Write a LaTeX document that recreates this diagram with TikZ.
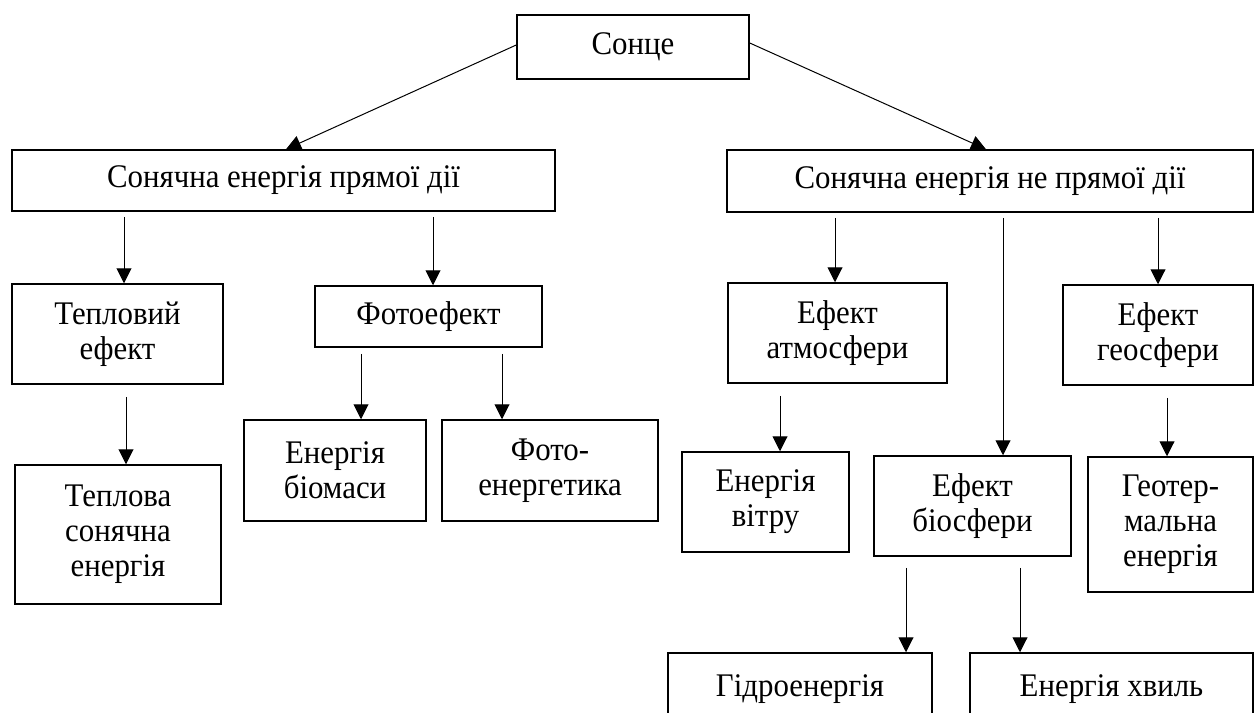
\documentclass[tikz,border=0pt]{standalone}
\usepackage{fontspec}
\setmainfont[FakeStretch=0.935]{Liberation Serif}
\usetikzlibrary{arrows.meta}
\begin{document}
\begin{tikzpicture}[x=1pt,y=-1pt,
  box/.style={draw, line width=1.5pt, inner sep=0pt, align=center, font=\fontsize{33}{35}\selectfont},
  arr/.style={line width=1pt, -{Triangle[length=15pt,width=15pt]}}]
\useasboundingbox (0,0) rectangle (1255,712);
\clip (0,0) rectangle (1255,712);
% nodes
\node[box, minimum width=232pt, minimum height=64pt] (sun) at (633,47) {Сонце};
\node[box, minimum width=543pt, minimum height=61pt] (pd) at (283.5,180.5) {Сонячна енергія прямої дії};
\node[box, minimum width=526pt, minimum height=62pt] (np) at (990,181) {Сонячна енергія не прямої дії};
\node[box, minimum width=211pt, minimum height=100pt] (tef) at (117.5,334) {Тепловий\\ефект};
\node[box, minimum width=227pt, minimum height=61pt] (foto) at (428.5,316.5) {Фотоефект};
\node[box, minimum width=206pt, minimum height=139pt] (tep) at (118,534.5) {Теплова\\сонячна\\енергія};
\node[box, minimum width=182pt, minimum height=101pt] (bio) at (335,470.5) {Енергія\\біомаси};
\node[box, minimum width=216pt, minimum height=101pt] (fen) at (550,470.5) {Фото-\\енергетика};
\node[box, minimum width=219pt, minimum height=100pt] (atm) at (837.5,333) {Ефект\\атмосфери};
\node[box, minimum width=190pt, minimum height=100pt] (geo) at (1158,335) {Ефект\\геосфери};
\node[box, minimum width=167pt, minimum height=100pt] (wind) at (765.5,502) {Енергія\\вітру};
\node[box, minimum width=197pt, minimum height=100pt] (bios) at (972.5,506) {Ефект\\біосфери};
\node[box, minimum width=165pt, minimum height=135pt] (geot) at (1170.5,524.5) {Геотер-\\мальна\\енергія};
\node[box, minimum width=264pt, minimum height=72pt] (hydro) at (800,689) {Гідроенергія};
\node[box, minimum width=283pt, minimum height=72pt] (wave) at (1111.5,689) {Енергія хвиль};
% arrow end points
\coordinate (e1) at ([xshift=2.5pt]pd.north);
\coordinate (e2) at ([xshift=-4pt]np.north);
\coordinate (e3) at ([xshift=6.5pt]tef.north);
\coordinate (e4) at ([xshift=4.5pt]foto.north);
\coordinate (e5) at ([xshift=8pt]tep.north);
\coordinate (e6) at ([xshift=26pt]bio.north);
\coordinate (e7) at ([xshift=-48pt]fen.north);
\coordinate (e8) at ([xshift=-2.5pt]atm.north);
\coordinate (e9) at ([xshift=30.5pt]bios.north);
\coordinate (e10) at (geo.north);
\coordinate (e11) at ([xshift=14.5pt]wind.north);
\coordinate (e12) at ([xshift=-3.5pt]geot.north);
\coordinate (e13) at ([xshift=106pt]hydro.north);
\coordinate (e14) at ([xshift=-91.5pt]wave.north);
% connectors
\draw[arr] ([yshift=2pt]sun.west) -- (e1);
\draw[arr] ([yshift=4pt]sun.east) -- (e2);
\draw[arr] ([yshift=-5pt]pd.south -| e3) -- (e3);
\draw[arr] ([yshift=-5pt]pd.south -| e4) -- (e4);
\draw[arr] ([yshift=-12pt]tef.south -| e5) -- (e5);
\draw[arr] ([yshift=-6pt]foto.south -| e6) -- (e6);
\draw[arr] ([yshift=-6pt]foto.south -| e7) -- (e7);
\draw[arr] ([yshift=-5pt]np.south -| e8) -- (e8);
\draw[arr] ([yshift=-5pt]np.south -| e9) -- (e9);
\draw[arr] ([yshift=-5pt]np.south -| e10) -- (e10);
\draw[arr] ([yshift=-12pt]atm.south -| e11) -- (e11);
\draw[arr] ([yshift=-12pt]geo.south -| e12) -- (e12);
\draw[arr] ([yshift=-11pt]bios.south -| e13) -- (e13);
\draw[arr] ([yshift=-11pt]bios.south -| e14) -- (e14);
\end{tikzpicture}
\end{document}
